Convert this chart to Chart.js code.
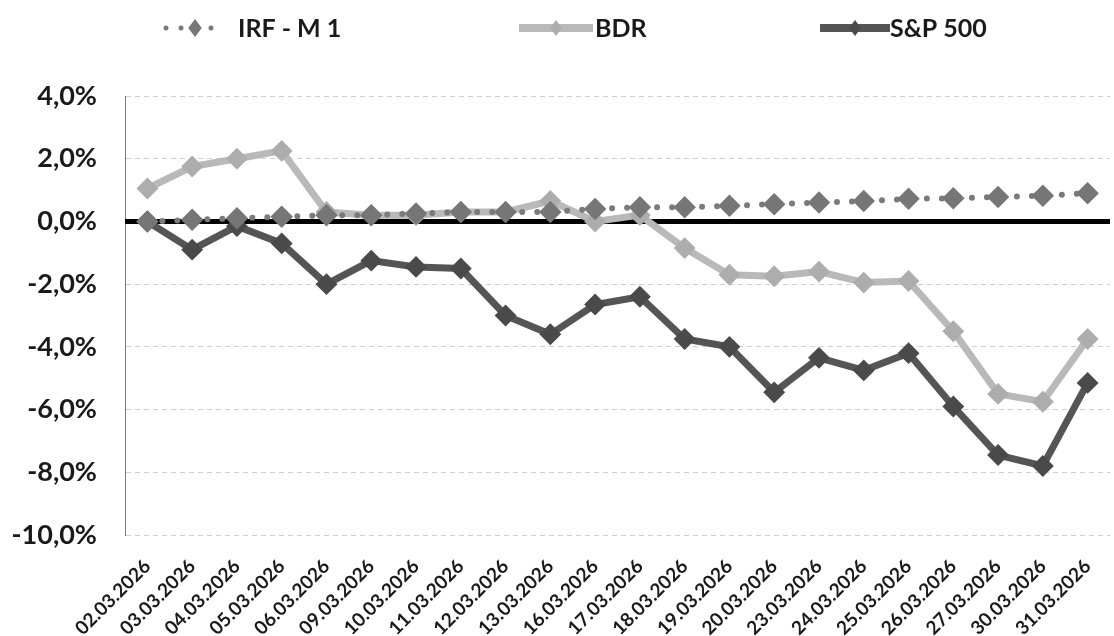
<!DOCTYPE html>
<html>
<head>
<meta charset="utf-8">
<script src="https://cdn.jsdelivr.net/npm/chart.js@4.4.0/dist/chart.umd.min.js"></script>
<style>
html, body { margin: 0; padding: 0; overflow: hidden; background: #fff; }
#wrap { position: relative; width: 1123px; height: 636px; }
</style>
</head>
<body>
<div id="wrap"><canvas id="grafico"></canvas></div>
<script>
var datas = ['02.03.2026', '03.03.2026', '04.03.2026', '05.03.2026', '06.03.2026', '09.03.2026',
    '10.03.2026', '11.03.2026', '12.03.2026', '13.03.2026', '16.03.2026', '17.03.2026',
    '18.03.2026', '19.03.2026', '20.03.2026', '23.03.2026', '24.03.2026', '25.03.2026',
    '26.03.2026', '27.03.2026', '30.03.2026', '31.03.2026'];
var irfm1 = [0.0, 0.05, 0.1, 0.15, 0.2, 0.2, 0.25, 0.3, 0.3, 0.3, 0.4, 0.45,
    0.45, 0.5, 0.55, 0.6, 0.65, 0.72, 0.74, 0.78, 0.82, 0.9];
var bdr = [1.05, 1.75, 2.0, 2.25, 0.3, 0.2, 0.2, 0.3, 0.3, 0.65, 0.0, 0.2,
    -0.85, -1.7, -1.75, -1.6, -1.95, -1.9, -3.5, -5.5, -5.75, -3.75];
var sp500 = [0.0, -0.9, -0.15, -0.7, -2.0, -1.25, -1.45, -1.5, -3.0, -3.6, -2.65, -2.4,
    -3.75, -4.0, -5.45, -4.35, -4.75, -4.2, -5.9, -7.45, -7.8, -5.15];
var ticksY = [4, 2, 0, -2, -4, -6, -8, -10];

function fmtPct(v) {
    return v.toFixed(1).replace('.', ',') + '%';
}

// linha preta do zero + legenda com linha e marcador
var extras = {
    id: 'extras',
    beforeDatasetsDraw: function(chart) {
        var ctx = chart.ctx;
        var area = chart.chartArea;
        var y = chart.scales.y.getPixelForValue(0);
        ctx.save();
        ctx.strokeStyle = '#000';
        ctx.lineWidth = 5;
        ctx.beginPath();
        ctx.moveTo(area.left, y);
        ctx.lineTo(area.right, y);
        ctx.stroke();
        ctx.restore();
    },
    afterDraw: function(chart) {
        var ctx = chart.ctx;
        var pos = [{x0: 166, x1: 224, tx: 238}, {x0: 519, x1: 593, tx: 595}, {x0: 820, x1: 890, tx: 890}];
        var y = 28;
        chart.data.datasets.forEach(function(ds, i) {
            var p = pos[i];
            ctx.save();
            ctx.strokeStyle = ds.borderColor;
            ctx.lineWidth = i === 0 ? 5 : ds.borderWidth + 1;
            ctx.lineCap = ds.borderCapStyle || 'butt';
            ctx.setLineDash(ds.borderDash || []);
            ctx.beginPath();
            ctx.moveTo(p.x0, y);
            ctx.lineTo(p.x1, y);
            ctx.stroke();
            ctx.setLineDash([]);
            var cx = (p.x0 + p.x1) / 2, r = ds.pointRadius + 2;
            ctx.fillStyle = ds.pointBackgroundColor;
            ctx.beginPath();
            ctx.moveTo(cx, y - r);
            ctx.lineTo(cx + r * 0.75, y);
            ctx.lineTo(cx, y + r);
            ctx.lineTo(cx - r * 0.75, y);
            ctx.closePath();
            ctx.fill();
            ctx.font = 'bold 25px Lato';
            ctx.fillStyle = '#1a1a1a';
            ctx.textBaseline = 'middle';
            ctx.fillText(ds.label, p.tx, y + 1);
            ctx.restore();
        });
    }
};

var ctx = document.getElementById('grafico').getContext('2d');
var grafico = new Chart(ctx, {
    type: 'line',
    data: {
        labels: datas,
        datasets: [{
            label: 'IRF - M 1',
            data: irfm1,
            borderColor: '#7a7a7a',
            borderWidth: 6,
            borderDash: [0, 15],
            borderCapStyle: 'round',
            pointStyle: 'rectRot',
            pointRadius: 7,
            pointBackgroundColor: '#767676',
            pointBorderColor: '#767676',
            tension: 0
        }, {
            label: 'BDR',
            data: bdr,
            borderColor: '#b9b9b9',
            borderWidth: 7,
            pointStyle: 'rectRot',
            pointRadius: 6,
            pointBackgroundColor: '#adadad',
            pointBorderColor: '#adadad',
            tension: 0
        }, {
            label: 'S&P 500',
            data: sp500,
            borderColor: '#555555',
            borderWidth: 7,
            pointStyle: 'rectRot',
            pointRadius: 6,
            pointBackgroundColor: '#4a4a4a',
            pointBorderColor: '#4a4a4a',
            tension: 0
        }]
    },
    options: {
        responsive: true,
        maintainAspectRatio: false,
        animation: false,
        layout: {
            padding: { top: 96, left: 0, right: 0, bottom: 0 }
        },
        scales: {
            x: {
                offset: true,
                grid: { display: false },
                border: { display: false },
                ticks: {
                    autoSkip: false,
                    minRotation: 45,
                    maxRotation: 45,
                    padding: 12,
                    color: '#1a1a1a',
                    font: { family: 'Lato', size: 19, weight: 'bold' }
                },
                afterFit: function(s) { s.height = 101; }
            },
            y: {
                min: -10,
                max: 4,
                afterBuildTicks: function(s) {
                    s.ticks = ticksY.map(function(v) { return { value: v }; });
                },
                grid: {
                    color: '#cfcfcf',
                    lineWidth: 1,
                    drawTicks: false
                },
                border: { display: true, color: '#7a7a7a', width: 1, dash: [5, 4] },
                ticks: {
                    padding: 28,
                    color: '#1a1a1a',
                    font: { family: 'Lato', size: 27, weight: 'bold' },
                    callback: function(v) { return fmtPct(v); }
                },
                afterFit: function(s) { s.width = 125; }
            }
        },
        plugins: {
            legend: { display: false },
            tooltip: { enabled: false }
        }
    },
    plugins: [extras]
});
</script>
</body>
</html>
